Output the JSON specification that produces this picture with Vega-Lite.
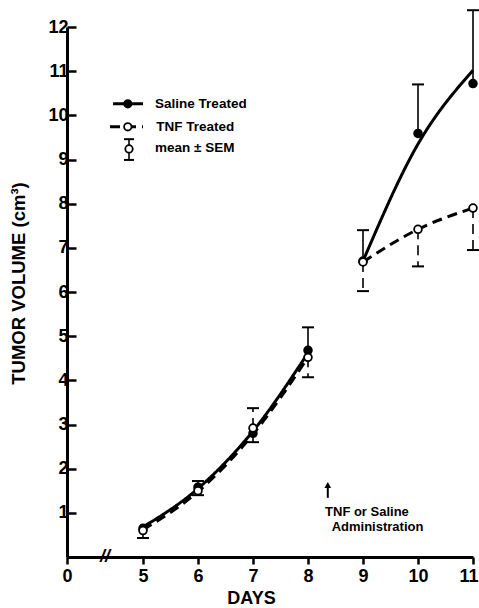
{
  "$schema": "https://vega.github.io/schema/vega-lite/v6.json",
  "width": 406,
  "height": 530,
  "autosize": "none",
  "padding": {"left": 67, "top": 27, "right": 6, "bottom": 51},
  "background": "white",
  "config": {"font": "Liberation Sans", "view": {"stroke": null}},
  "datasets": {
    "points": [
      {"series": "Saline", "x": 5, "y": 0.65}, {"series": "Saline", "x": 6, "y": 1.58},
      {"series": "Saline", "x": 7, "y": 2.8}, {"series": "Saline", "x": 8, "y": 4.68},
      {"series": "Saline", "x": 9, "y": 6.7}, {"series": "Saline", "x": 10, "y": 9.59},
      {"series": "Saline", "x": 11, "y": 10.72},
      {"series": "TNF", "x": 5, "y": 0.6}, {"series": "TNF", "x": 6, "y": 1.5},
      {"series": "TNF", "x": 7, "y": 2.92}, {"series": "TNF", "x": 8, "y": 4.52},
      {"series": "TNF", "x": 9, "y": 6.68}, {"series": "TNF", "x": 10, "y": 7.42},
      {"series": "TNF", "x": 11, "y": 7.9}
    ],
    "curves": [
      {"series": "Saline", "seg": "Sa", "x": 5, "y": 0.68}, {"series": "Saline", "seg": "Sa", "x": 6, "y": 1.55},
      {"series": "Saline", "seg": "Sa", "x": 7, "y": 2.85}, {"series": "Saline", "seg": "Sa", "x": 8, "y": 4.62},
      {"series": "Saline", "seg": "Sb", "x": 9, "y": 6.7}, {"series": "Saline", "seg": "Sb", "x": 10, "y": 9.35},
      {"series": "Saline", "seg": "Sb", "x": 11, "y": 11.02},
      {"series": "TNF", "seg": "Ta", "x": 5, "y": 0.62}, {"series": "TNF", "seg": "Ta", "x": 6, "y": 1.48},
      {"series": "TNF", "seg": "Ta", "x": 7, "y": 2.78}, {"series": "TNF", "seg": "Ta", "x": 8, "y": 4.52},
      {"series": "TNF", "seg": "Tb", "x": 9, "y": 6.68}, {"series": "TNF", "seg": "Tb", "x": 10, "y": 7.42},
      {"series": "TNF", "seg": "Tb", "x": 11, "y": 7.9}
    ],
    "bars": [
      {"series": "Saline", "x": 5, "y": 0.65, "y2": 0.43}, {"series": "Saline", "x": 6, "y": 1.58, "y2": 1.72},
      {"series": "Saline", "x": 7, "y": 2.8, "y2": 2.6}, {"series": "Saline", "x": 8, "y": 4.68, "y2": 5.2},
      {"series": "Saline", "x": 9, "y": 6.7, "y2": 7.4}, {"series": "Saline", "x": 10, "y": 9.59, "y2": 10.7},
      {"series": "Saline", "x": 11, "y": 10.72, "y2": 12.38},
      {"series": "TNF", "x": 6, "y": 1.5, "y2": 1.4}, {"series": "TNF", "x": 7, "y": 2.92, "y2": 3.37},
      {"series": "TNF", "x": 8, "y": 4.52, "y2": 4.07}, {"series": "TNF", "x": 9, "y": 6.68, "y2": 6.02},
      {"series": "TNF", "x": 10, "y": 7.42, "y2": 6.58}, {"series": "TNF", "x": 11, "y": 7.9, "y2": 6.95}
    ],
    "legendLines": [
      {"series": "Saline", "x": 3.03, "y": 10.26}, {"series": "Saline", "x": 5.0, "y": 10.26},
      {"series": "TNF", "x": 2.83, "y": 9.74}, {"series": "TNF", "x": 5.0, "y": 9.74}
    ],
    "legendPoints": [
      {"series": "Saline", "x": 4.0, "y": 10.26},
      {"series": "TNF", "x": 4.0, "y": 9.74},
      {"series": "TNF", "x": 4.08, "y": 9.24}
    ],
    "legendBar": [{"series": "Saline", "x": 4.08, "y": 8.99, "y2": 9.46}],
    "legendCaps": [{"x": 4.08, "y": 8.99}, {"x": 4.08, "y": 9.46}],
    "legendText": [
      {"x": 5.22, "y": 10.26, "label": "Saline Treated"},
      {"x": 5.24, "y": 9.74, "label": "TNF Treated"},
      {"x": 5.22, "y": 9.26, "label": "mean ± SEM"}
    ],
    "arrow": [{"x": 8.36, "y": 1.34, "y2": 1.6}],
    "arrowHead": [{"x": 8.36, "y": 1.63}],
    "note": [
      {"x": 8.31, "y": 1.02, "label": "TNF or Saline"},
      {"x": 8.43, "y": 0.69, "label": "Administration"}
    ],
    "brk": [{"x": 2.5, "y": 0, "label": "//"}]
  },
  "encoding": {
    "x": {
      "field": "x", "type": "quantitative",
      "scale": {"domain": [0, 5, 11], "range": [0, 76, 406]},
      "axis": {
        "title": "DAYS", "values": [0, 5, 6, 7, 8, 9, 10, 11], "grid": false,
        "domainColor": "black", "domainWidth": 3, "tickColor": "black", "tickWidth": 2.5, "tickSize": 7,
        "labelFontSize": 18, "labelFontWeight": "bold", "labelColor": "black", "labelPadding": 3,
        "labelFlush": true, "labelFlushOffset": 5, "labelOverlap": false,
        "titleFontSize": 18, "titleFontWeight": "bold", "titleColor": "black",
        "titleX": 184, "titleY": 41, "titleBaseline": "middle", "titleAlign": "center"
      }
    },
    "y": {
      "field": "y", "type": "quantitative",
      "scale": {"domain": [0, 12], "nice": false, "zero": false},
      "axis": {
        "title": "TUMOR VOLUME (cm³)", "values": [1, 2, 3, 4, 5, 6, 7, 8, 9, 10, 11, 12], "grid": false,
        "domainColor": "black", "domainWidth": 3, "tickColor": "black", "tickWidth": 2.5, "tickSize": -9,
        "labelFontSize": 18, "labelFontWeight": "bold", "labelColor": "black", "labelPadding": 8,
        "labelFlush": false, "labelOverlap": false,
        "titleFontSize": 18.5, "titleFontWeight": "bold", "titleColor": "black",
        "titleX": -49, "titleY": 256, "titleBaseline": "middle", "titleAlign": "center", "titleAngle": -90
      }
    }
  },
  "layer": [
    {
      "data": {"name": "curves"},
      "mark": {"type": "line", "interpolate": "monotone", "color": "black", "strokeWidth": 3},
      "encoding": {
        "detail": {"field": "seg"},
        "strokeDash": {"field": "series", "type": "nominal", "scale": {"domain": ["Saline", "TNF"], "range": [[1, 0], [10, 6]]}, "legend": null}
      }
    },
    {
      "data": {"name": "bars"},
      "mark": {"type": "rule", "color": "black", "strokeWidth": 1.6},
      "encoding": {
        "y2": {"field": "y2"},
        "strokeDash": {"field": "series", "type": "nominal", "scale": {"domain": ["Saline", "TNF"], "range": [[1, 0], [4, 3]]}, "legend": null}
      }
    },
    {
      "data": {"name": "bars"},
      "mark": {"type": "point", "shape": "M-1,0H1", "size": 144, "stroke": "black", "strokeWidth": 2, "filled": false, "opacity": 1},
      "encoding": {"y": {"field": "y2", "type": "quantitative"}}
    },
    {
      "data": {"name": "points"},
      "mark": {"type": "point", "shape": "circle", "size": 60, "stroke": "black", "strokeWidth": 1.8, "filled": true, "opacity": 1, "strokeOpacity": 1, "fillOpacity": 1},
      "encoding": {
        "fill": {"field": "series", "type": "nominal", "scale": {"domain": ["Saline", "TNF"], "range": ["black", "white"]}, "legend": null}
      }
    },
    {
      "data": {"name": "legendLines"},
      "mark": {"type": "line", "color": "black", "strokeWidth": 3},
      "encoding": {
        "detail": {"field": "series"},
        "strokeDash": {"field": "series", "type": "nominal", "scale": {"domain": ["Saline", "TNF"], "range": [[1, 0], [8, 6]]}, "legend": null}
      }
    },
    {
      "data": {"name": "legendBar"},
      "mark": {"type": "rule", "color": "black", "strokeWidth": 1.6},
      "encoding": {"y2": {"field": "y2"}}
    },
    {
      "data": {"name": "legendCaps"},
      "mark": {"type": "point", "shape": "M-1,0H1", "size": 100, "stroke": "black", "strokeWidth": 2, "filled": false, "opacity": 1}
    },
    {
      "data": {"name": "legendPoints"},
      "mark": {"type": "point", "shape": "circle", "size": 55, "stroke": "black", "strokeWidth": 1.8, "filled": true, "opacity": 1},
      "encoding": {
        "fill": {"field": "series", "type": "nominal", "scale": {"domain": ["Saline", "TNF"], "range": ["black", "white"]}, "legend": null}
      }
    },
    {
      "data": {"name": "legendText"},
      "mark": {"type": "text", "align": "left", "baseline": "middle", "fontSize": 13.5, "fontWeight": "bold", "color": "black"},
      "encoding": {"text": {"field": "label"}}
    },
    {
      "data": {"name": "arrow"},
      "mark": {"type": "rule", "color": "black", "strokeWidth": 2},
      "encoding": {"y2": {"field": "y2"}}
    },
    {
      "data": {"name": "arrowHead"},
      "mark": {"type": "point", "shape": "triangle-up", "size": 45, "filled": true, "color": "black", "opacity": 1}
    },
    {
      "data": {"name": "note"},
      "mark": {"type": "text", "align": "left", "baseline": "middle", "fontSize": 13, "fontWeight": "bold", "color": "black"},
      "encoding": {"text": {"field": "label"}}
    },
    {
      "data": {"name": "brk"},
      "mark": {"type": "text", "align": "center", "baseline": "middle", "fontSize": 18, "fontWeight": "bold", "fontStyle": "italic", "color": "black"},
      "encoding": {"text": {"field": "label"}}
    }
  ]
}
